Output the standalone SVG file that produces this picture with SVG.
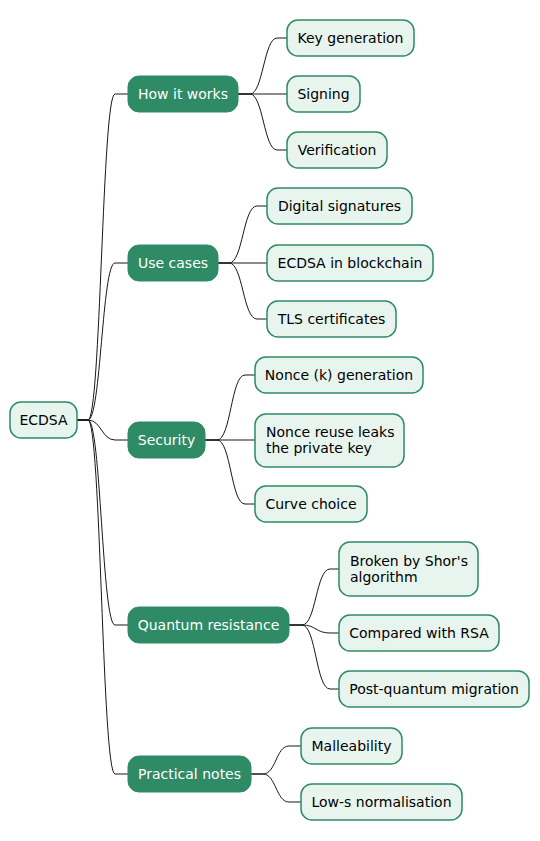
<svg xmlns="http://www.w3.org/2000/svg" width="540" height="841" viewBox="0 0 540 841">
<style>
.main rect{fill:#2e8b66;stroke:#2e8b66;stroke-width:1}
.main text{fill:#ffffff}
.leaf rect{fill:#e8f5ee;stroke:#2e8b66;stroke-width:1.5}
.leaf text{fill:#000000}
text{font-family:"DejaVu Sans",Verdana,sans-serif;font-size:14px}
.c{text-anchor:middle}
#connectors path{fill:none;stroke:#181818;stroke-width:1}
</style>
<rect width="540" height="841" fill="#ffffff"/>
<g id="connectors">
<!-- root -->
<path d="M77,420 L88,420 C101,420 102,94 115,94 L128,94"/>
<path d="M77,420 L88,420 C101,420 102,263 115,263 L128,263"/>
<path d="M77,420 L88,420 C101,420 102,440 115,440 L128,440"/>
<path d="M77,420 L88,420 C101,420 102,625 115,625 L128,625"/>
<path d="M77,420 L88,420 C101,420 102,774 115,774 L128,774"/>
<!-- How it works -->
<path d="M238,94 L250,94 C263,94 264,38 277,38 L287,38"/>
<path d="M238,94 L287,94"/>
<path d="M238,94 L250,94 C263,94 264,150 277,150 L287,150"/>
<!-- Use cases -->
<path d="M218,263 L229,263 C243,263 243,206 257,206 L267,206"/>
<path d="M218,263 L267,263"/>
<path d="M218,263 L229,263 C243,263 243,319 257,319 L267,319"/>
<!-- Security -->
<path d="M205,440 L217,440 C231,440 231,375 245,375 L255,375"/>
<path d="M205,440 L255,440"/>
<path d="M205,440 L217,440 C231,440 231,504 245,504 L255,504"/>
<!-- Quantum -->
<path d="M289,625 L302,625 C316,625 316,569 330,569 L339,569"/>
<path d="M289,625 L302,625 C316,625 316,633 330,633 L339,633"/>
<path d="M289,625 L302,625 C316,625 316,689 330,689 L339,689"/>
<!-- Practical -->
<path d="M251,774 L263,774 C276,774 276,746 289,746 L301,746"/>
<path d="M251,774 L263,774 C276,774 276,802 289,802 L301,802"/>
</g>
<g id="n-root" class="leaf"><rect x="10" y="402" width="67" height="36" rx="11"/><text x="43.5" y="425" class="c">ECDSA</text></g>
<g id="n-how" class="main"><rect x="128" y="76" width="110" height="36" rx="11"/><text x="183" y="99" class="c">How it works</text></g>
<g id="n-keygen" class="leaf"><rect x="287" y="20" width="127" height="36" rx="11"/><text x="350.5" y="43" class="c">Key generation</text></g>
<g id="n-signing" class="leaf"><rect x="287" y="76" width="73" height="36" rx="11"/><text x="323.5" y="99" class="c">Signing</text></g>
<g id="n-verif" class="leaf"><rect x="287" y="132" width="100" height="36" rx="11"/><text x="337" y="155" class="c">Verification</text></g>
<g id="n-use" class="main"><rect x="128" y="245" width="90" height="36" rx="11"/><text x="173" y="268" class="c">Use cases</text></g>
<g id="n-digsig" class="leaf"><rect x="267" y="188" width="145" height="36" rx="11"/><text x="339.5" y="211" class="c">Digital signatures</text></g>
<g id="n-chain" class="leaf"><rect x="267" y="245" width="166" height="36" rx="11"/><text x="350" y="268" class="c">ECDSA in blockchain</text></g>
<g id="n-tls" class="leaf"><rect x="267" y="301" width="129" height="36" rx="11"/><text x="331.5" y="324" class="c">TLS certificates</text></g>
<g id="n-sec" class="main"><rect x="128" y="422" width="77" height="36" rx="11"/><text x="166.5" y="445" class="c">Security</text></g>
<g id="n-nonce" class="leaf"><rect x="255" y="357" width="168" height="36" rx="11"/><text x="339" y="380" class="c">Nonce (k) generation</text></g>
<g id="n-reuse" class="leaf"><rect x="255" y="414" width="149" height="53" rx="11"/><text x="266" y="437">Nonce reuse leaks</text><text x="266" y="453">the private key</text></g>
<g id="n-curve" class="leaf"><rect x="255" y="486" width="112" height="36" rx="11"/><text x="311" y="509" class="c">Curve choice</text></g>
<g id="n-quantum" class="main"><rect x="128" y="607" width="161" height="36" rx="11"/><text x="208.5" y="630" class="c">Quantum resistance</text></g>
<g id="n-shor" class="leaf"><rect x="339" y="542" width="139" height="54" rx="11"/><text x="350" y="566">Broken by Shor's</text><text x="350" y="582">algorithm</text></g>
<g id="n-rsa" class="leaf"><rect x="339" y="615" width="160" height="36" rx="11"/><text x="419" y="638" class="c">Compared with RSA</text></g>
<g id="n-pq" class="leaf"><rect x="339" y="671" width="190" height="36" rx="11"/><text x="434" y="694" class="c">Post-quantum migration</text></g>
<g id="n-prac" class="main"><rect x="128" y="756" width="123" height="36" rx="11"/><text x="189.5" y="779" class="c">Practical notes</text></g>
<g id="n-mall" class="leaf"><rect x="301" y="728" width="101" height="36" rx="11"/><text x="351.5" y="751" class="c">Malleability</text></g>
<g id="n-lows" class="leaf"><rect x="301" y="784" width="161" height="36" rx="11"/><text x="381.5" y="807" class="c">Low-s normalisation</text></g>
</svg>
